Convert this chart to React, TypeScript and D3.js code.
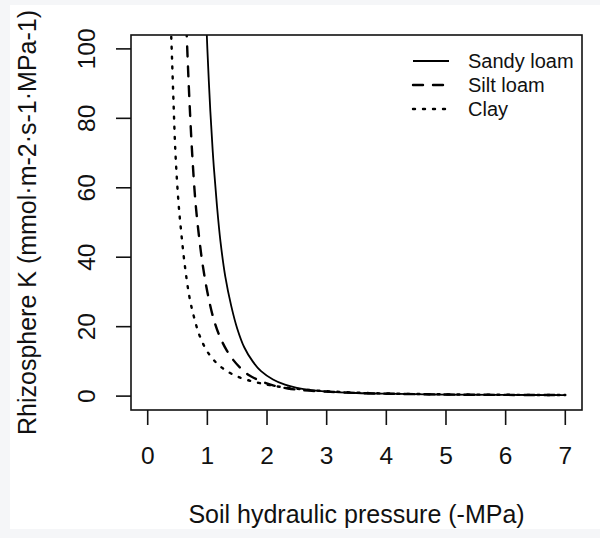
import * as d3 from 'd3'

// values
const xTicks = [0, 1, 2, 3, 4, 5, 6, 7]
const yTicks = [0, 20, 40, 60, 80, 100]

const sandyX = [0.95, 0.97, 1.0, 1.05, 1.1, 1.16, 1.22, 1.3, 1.4, 1.5, 1.62, 1.76, 1.9, 2.1, 2.3, 2.5, 2.75, 3, 3.5, 4, 5, 6, 7]
const sandyK = [123, 113, 100, 82, 68, 55, 44.5, 34.5, 26, 19.5, 14, 10, 7.2, 4.8, 3.3, 2.4, 1.7, 1.3, 0.9, 0.7, 0.45, 0.35, 0.3]

const siltX = [0.62, 0.64, 0.67, 0.7, 0.745, 0.8, 0.86, 0.92, 1.0, 1.1, 1.2, 1.32, 1.43, 1.56, 1.7, 1.9, 2.1, 2.35, 2.6, 3, 3.5, 4, 5, 6, 7]
const siltK = [118, 110, 97, 85, 70, 56, 46, 38, 30, 22.5, 17.5, 13.3, 10.5, 8, 6, 4.3, 3.1, 2.2, 1.7, 1.3, 0.9, 0.7, 0.45, 0.35, 0.3]

const clayX = [0.37, 0.4, 0.43, 0.465, 0.515, 0.56, 0.616, 0.7, 0.78, 0.868, 1.0, 1.15, 1.3, 1.48, 1.7, 2.0, 2.25, 2.5, 2.75, 3, 3.5, 4, 5, 6, 7]
const clayK = [115, 101, 86, 70, 56, 47.5, 38.5, 28.5, 22.5, 17.5, 12.8, 9.6, 7.5, 5.8, 4.5, 3.3, 2.6, 2.1, 1.7, 1.4, 1.0, 0.75, 0.5, 0.38, 0.3]

const seriesNames = ['Sandy loam', 'Silt loam', 'Clay']

interface Pt {
  x: number
  k: number
}

const zip = (xs: number[], ks: number[]): Pt[] => xs.map((x, i) => ({ x, k: ks[i] }))

const styles = [
  { dash: undefined, cap: 'butt' },
  { dash: '10,10', cap: 'round' },
  { dash: '2,8', cap: 'round' },
]

export default function App() {
  const left = 131
  const right = 582
  const top = 35
  const bottom = 410
  const x = d3.scaleLinear().domain([-0.28, 7.28]).range([left, right])
  const y = d3.scaleLinear().domain([-4, 104]).range([bottom, top])
  const line = d3
    .line<Pt>()
    .x(d => x(d.x))
    .y(d => y(d.k))
    .curve(d3.curveCatmullRom.alpha(0.5))

  const series = [zip(sandyX, sandyK), zip(siltX, siltK), zip(clayX, clayK)]
  const font = '"Liberation Sans", Arial, Helvetica, sans-serif'
  const cy = (top + bottom) / 2
  const cx = (left + right) / 2

  return (
    <div style={{ position: 'absolute', left: 0, top: 0, width: 600, height: 538, background: '#f5f6f8' }}>
      <svg width={600} height={538} style={{ display: 'block', fontFamily: font }}>
        <rect x={10} y={5} width={590} height={524} fill="#fff" />
        <defs>
          <clipPath id="plotclip">
            <rect x={left} y={top} width={right - left} height={bottom - top} />
          </clipPath>
        </defs>

        {/* curves */}
        <g clipPath="url(#plotclip)">
          {series.map((s, i) => (
            <path
              key={i}
              d={line(s) ?? ''}
              fill="none"
              stroke="#000"
              strokeWidth={i === 0 ? 1.8 : 2.4}
              strokeDasharray={styles[i].dash}
              strokeLinecap={styles[i].cap as any}
            />
          ))}
        </g>

        {/* box */}
        <rect x={left} y={top} width={right - left} height={bottom - top} fill="none" stroke="#111" strokeWidth={1.6} />

        {/* x axis */}
        {xTicks.map(t => (
          <g key={t}>
            <line x1={x(t)} x2={x(t)} y1={bottom} y2={bottom + 15} stroke="#111" strokeWidth={1.6} />
            <text x={x(t)} y={bottom + 54} textAnchor="middle" fontSize={24.5} fill="#111">
              {t}
            </text>
          </g>
        ))}

        {/* y axis */}
        {yTicks.map(t => (
          <g key={t}>
            <line x1={left} x2={left - 15} y1={y(t)} y2={y(t)} stroke="#111" strokeWidth={1.6} />
            <text
              transform={`translate(${left - 36},${y(t)}) rotate(-90)`}
              textAnchor="middle"
              fontSize={24.5}
              fill="#111"
            >
              {t}
            </text>
          </g>
        ))}

        {/* titles */}
        <text x={cx} y={523} textAnchor="middle" fontSize={25} fill="#111">
          Soil hydraulic pressure (-MPa)
        </text>
        <text transform={`translate(36,${cy}) rotate(-90)`} textAnchor="middle" fontSize={25} fill="#111">
          Rhizosphere K (mmol·m-2·s-1·MPa-1)
        </text>

        {/* legend */}
        {seriesNames.map((name, i) => (
          <g key={name} transform={`translate(0,${61 + i * 24})`}>
            <line
              x1={413}
              x2={449}
              y1={0}
              y2={0}
              stroke="#000"
              strokeWidth={i === 0 ? 1.8 : 2.4}
              strokeDasharray={styles[i].dash}
              strokeLinecap={styles[i].cap as any}
            />
            <text x={468} y={0} dy="0.35em" fontSize={20} fill="#111">
              {name}
            </text>
          </g>
        ))}
      </svg>
    </div>
  )
}
